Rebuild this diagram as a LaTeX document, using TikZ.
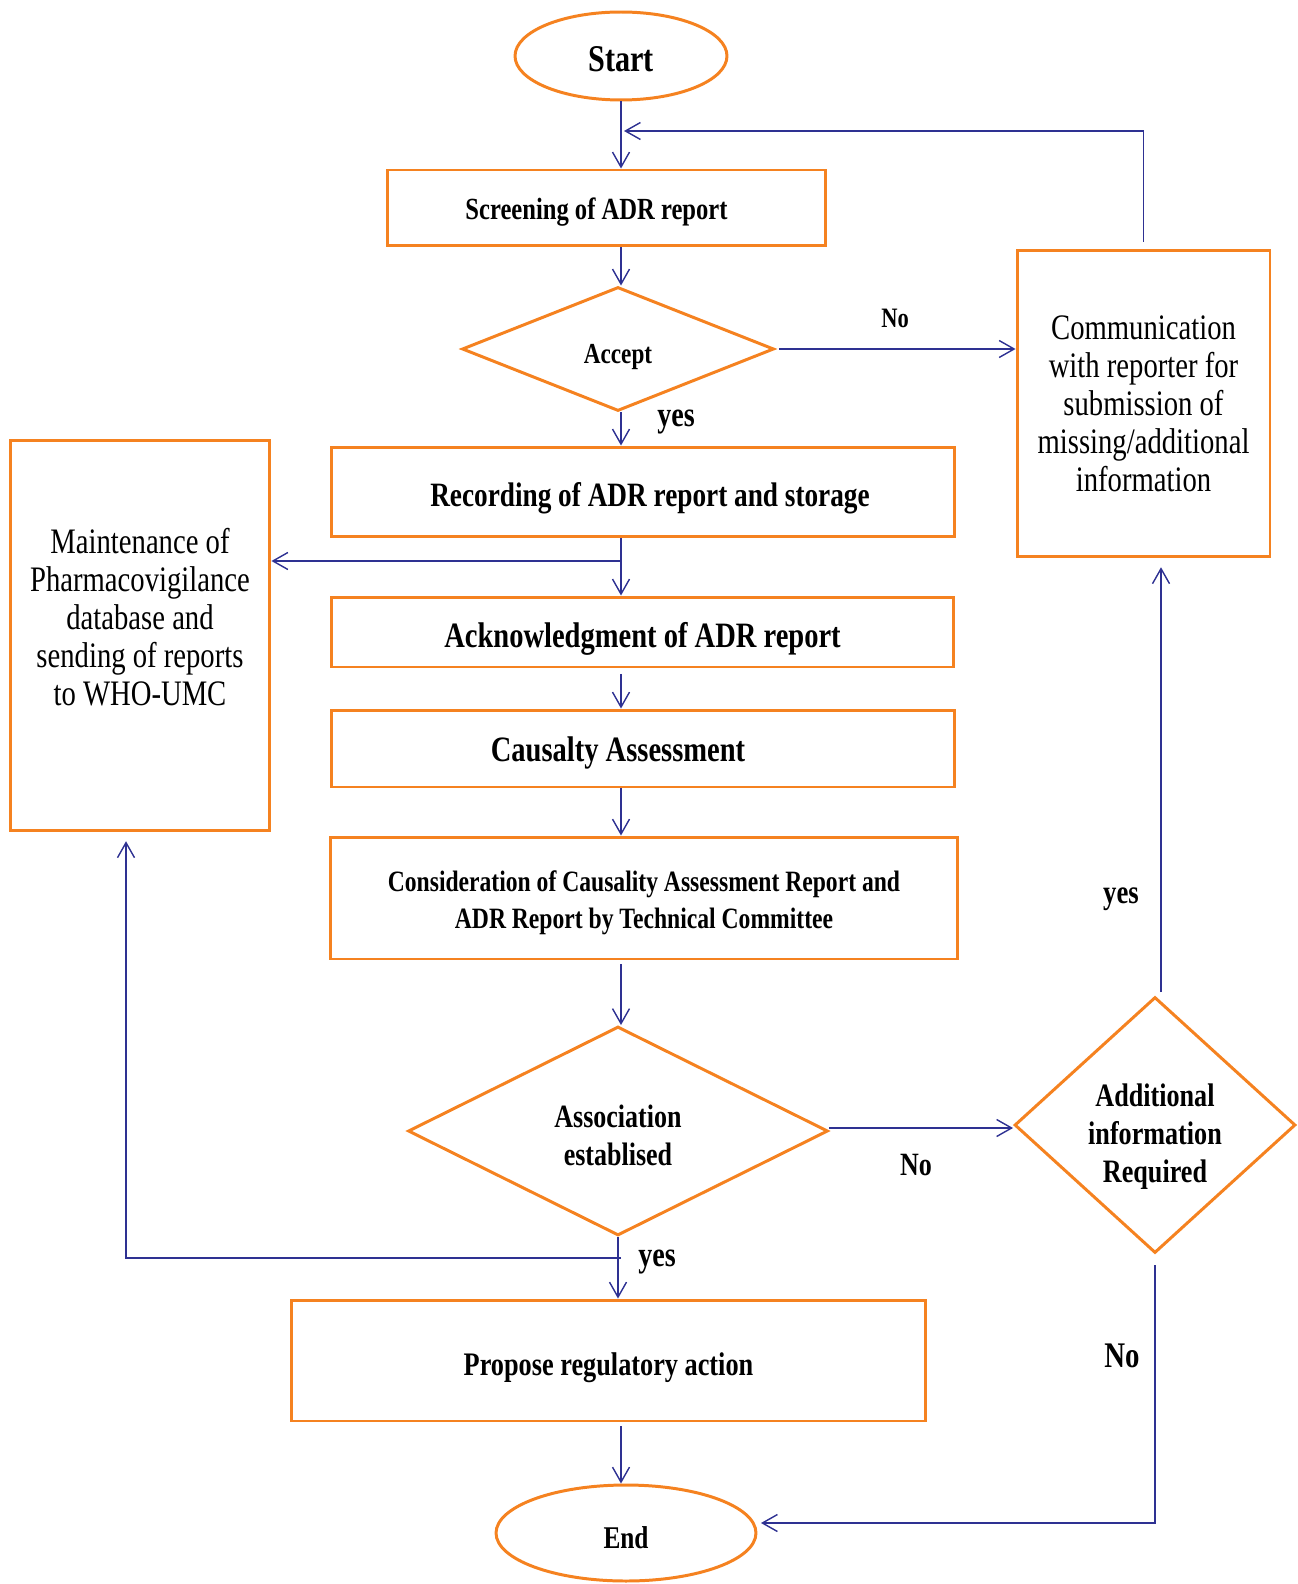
\documentclass[tikz,border=0pt]{standalone}
\usepackage{fontspec}
\setmainfont{Liberation Serif}[FakeStretch=0.8]
\usetikzlibrary{shapes.geometric,arrows.meta}
\definecolor{orng}{RGB}{245,130,32}
\definecolor{ablue}{RGB}{46,49,146}
\newcommand{\fsz}[2]{\fontsize{#1pt}{#2pt}\selectfont}
\begin{document}
\begin{tikzpicture}[x=0.02cm,y=-0.02cm,
    box/.style={draw=orng,line width=1.7pt,inner sep=2pt,align=center},
    oval/.style={box,ellipse},
    dec/.style={box,diamond,inner sep=0pt},
    one/.style={text height=#1,text depth=0pt},
    arr/.style={draw=ablue,line width=0.8pt,-{Straight Barb[length=0.3cm,width=0.34cm]}},
    lab/.style={font=\bfseries\fsz{#1}{#1}}]
    \useasboundingbox (0,0) rectangle (1297,1584);
    % boxes
    \node[oval,one=18pt,minimum width=4.24cm,minimum height=1.76cm,font=\bfseries\fsz{21.5}{24}](start)at(621,56){Start};
    \node[box,one=12.8pt,minimum width=8.78cm,minimum height=1.52cm,font=\bfseries\fsz{17.5}{20}](screen)at(606.5,208){Screening of ADR report\hspace*{0.4cm}};
    \node[dec,one=16.8pt,minimum width=6.24cm,minimum height=2.48cm,font=\bfseries\fsz{16.5}{19}](accept)at(618,349){Accept};
    \node[box,minimum width=5.06cm,minimum height=6.14cm,font=\fsz{20.4}{21.6}](comm)at(1143.5,403.5){Communication\\with reporter for\\submission of\\missing/additional\\information};
    \node[box,one=16pt,minimum width=12.48cm,minimum height=1.8cm,font=\bfseries\fsz{19.4}{22}](record)at(643,492){\hspace*{0.28cm}Recording of ADR report and storage};
    \node[box,minimum width=5.2cm,minimum height=7.82cm,font=\fsz{20.4}{21.6}](maint)at(140,635.5){Maintenance of\\Pharmacovigilance\\database and\\sending of reports\\to WHO-UMC\\\mbox{}};
    \node[box,one=17.6pt,minimum width=12.46cm,minimum height=1.4cm,font=\bfseries\fsz{20.3}{22}](ack)at(642.5,632){Acknowledgment of ADR report};
    \node[box,one=15.2pt,minimum width=12.48cm,minimum height=1.54cm,font=\bfseries\fsz{20.3}{22}](caus)at(643,748.5){Causalty Assessment\hspace*{1cm}};
    \node[box,minimum width=12.56cm,minimum height=2.44cm](consid)at(644,898){};
    \node[font=\bfseries\fsz{16.8}{21},align=center](considtxt)at(644,903){Consideration of Causality Assessment Report and\\ADR Report by Technical Committee};
    \node[dec,minimum width=8.4cm,minimum height=4.18cm](assoc)at(618,1131){};
    \node[font=\bfseries\fsz{18.5}{21.5},align=center](assoctxt)at(618,1135){Association\\establised};
    \node[dec,minimum width=5.62cm,minimum height=5.12cm](addl)at(1155,1125){};
    \node[font=\bfseries\fsz{18.6}{21.6},align=center](addltxt)at(1155,1137){Additional\\information\\Required};
    \node[box,one=16.8pt,minimum width=12.7cm,minimum height=2.42cm,font=\bfseries\fsz{18.7}{21}](propose)at(608.5,1360.5){Propose regulatory action};
    \node[oval,one=18pt,minimum width=5.2cm,minimum height=1.92cm,font=\bfseries\fsz{18}{21}](end)at(626,1533){End};
    % labels
    \node[lab=16](no1)at(895,318){No};
    \node[lab=20](yes1)at(676,422){yes};
    \node[lab=18.5](no2)at(916,1165){No};
    \node[lab=19](yes2)at(1121,899){yes};
    \node[lab=20](yes3)at(657,1262){yes};
    \node[lab=20.5](no3)at(1122,1356){No};
    % connectors
    \coordinate(axis)at(621,0);
    \coordinate(back)at(624,131);
    \coordinate(split1)at(621,561);
    \coordinate(split2)at(621,1258);
    \draw[arr](start.south)--(start.south|-screen.north);
    \draw[arr,shorten <=4pt](comm.north)|-(back);
    \draw[arr](axis|-screen.south)--(axis|-accept.north);
    \draw[arr,shorten <=2pt](accept.east)--(accept.east-|comm.west);
    \draw[arr](axis|-accept.south)--(axis|-record.north);
    \draw[arr](axis|-record.south)--(axis|-ack.north);
    \draw[arr](split1)--(split1-|maint.east);
    \draw[arr,shorten <=3pt](axis|-ack.south)--(axis|-caus.north);
    \draw[arr](axis|-caus.south)--(axis|-consid.north);
    \draw[arr,shorten <=2pt](axis|-consid.south)--(axis|-assoc.north);
    \draw[arr]([yshift=0.06cm]assoc.east)--([yshift=0.06cm]assoc.east-|addl.west);
    \draw[arr,shorten <=2pt,shorten >=5pt]([xshift=0.12cm]addl.north)--([xshift=0.12cm]addl.north|-comm.south);
    \draw[arr](assoc.south)--(assoc.south|-propose.north);
    \draw[arr,shorten >=5pt](split2)-|([xshift=-0.28cm]maint.south);
    \draw[arr,shorten <=2pt](axis|-propose.south)--(axis|-end.north);
    \draw[arr,shorten <=6pt,shorten >=2pt](addl.south)|-([yshift=0.2cm]end.east);
\end{tikzpicture}
\end{document}
